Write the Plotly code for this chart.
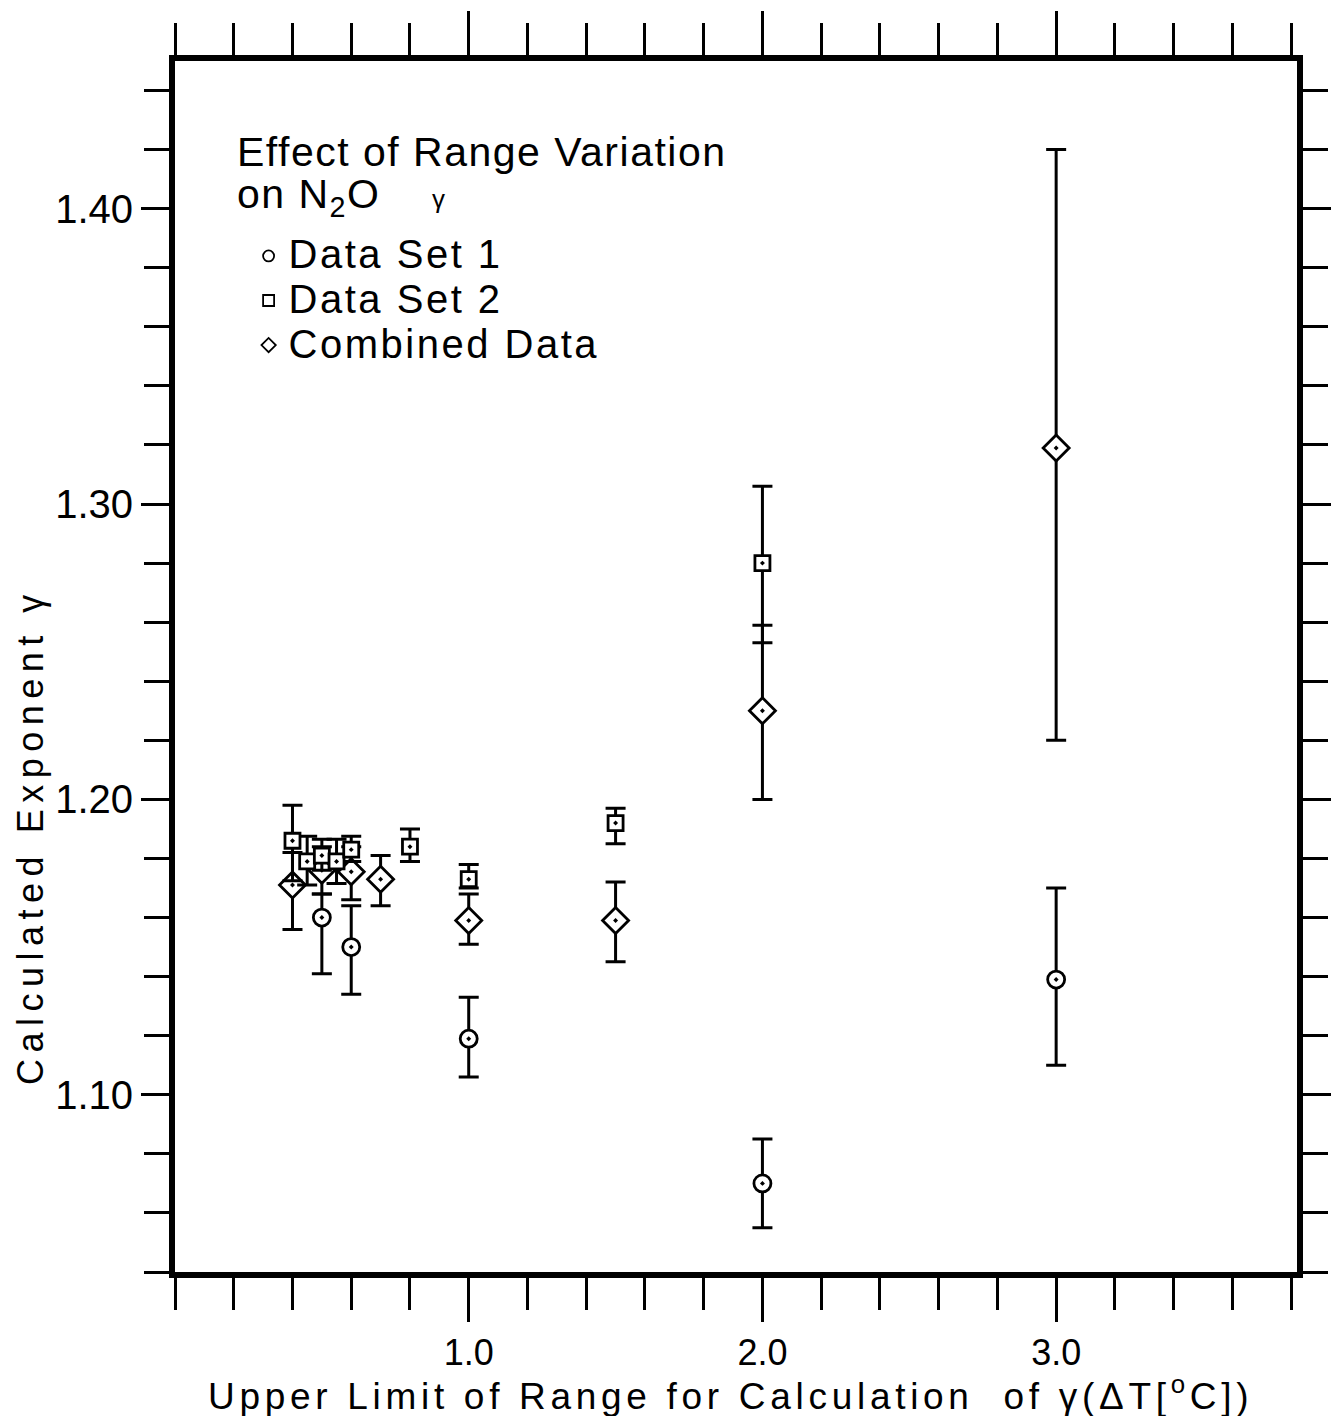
import plotly.graph_objects as go

# ---- data ----
x_set1 = [0.5, 0.6, 1.0, 2.0, 3.0]
y_set1 = [1.160, 1.150, 1.119, 1.070, 1.139]
hi_set1 = [1.168, 1.164, 1.133, 1.085, 1.170]
lo_set1 = [1.141, 1.134, 1.106, 1.055, 1.110]

x_set2 = [0.4, 0.45, 0.5, 0.55, 0.6, 0.8, 1.0, 1.5, 2.0]
y_set2 = [1.186, 1.179, 1.181, 1.179, 1.183, 1.184, 1.173, 1.192, 1.280]
hi_set2 = [1.198, 1.1875, 1.1865, 1.1865, 1.1875, 1.190, 1.178, 1.197, 1.306]
lo_set2 = [1.1725, 1.171, 1.176, 1.1715, 1.179, 1.179, 1.170, 1.185, 1.253]

x_comb = [0.4, 0.5, 0.6, 0.7, 1.0, 1.5, 2.0, 3.0]
y_comb = [1.171, 1.176, 1.1755, 1.173, 1.159, 1.159, 1.230, 1.319]
hi_comb = [1.182, 1.184, 1.184, 1.181, 1.168, 1.172, 1.259, 1.420]
lo_comb = [1.156, 1.168, 1.166, 1.164, 1.151, 1.145, 1.200, 1.220]

x_tickvals = [1.0, 2.0, 3.0]
x_ticktext = ["1.0", "2.0", "3.0"]
y_tickvals = [1.10, 1.20, 1.30, 1.40]
y_ticktext = ["1.10", "1.20", "1.30", "1.40"]

series_names = ["Data Set 1", "Data Set 2", "Combined Data"]

FONT = "Liberation Sans, Arial, Helvetica, sans-serif"

fig = go.Figure()


def add_series(xs, ys, hi, lo, symbol, size):
    fig.add_trace(go.Scatter(
        x=xs, y=ys, mode="markers", showlegend=False,
        marker=dict(symbol=symbol, size=size, color="white",
                    line=dict(color="black", width=2.8)),
        error_y=dict(type="data", symmetric=False,
                     array=[h - v for h, v in zip(hi, ys)],
                     arrayminus=[v - l for l, v in zip(lo, ys)],
                     color="black", thickness=3, width=10),
    ))


add_series(x_comb, y_comb, hi_comb, lo_comb, "diamond-dot", 20)
add_series(x_set1, y_set1, hi_set1, lo_set1, "circle-dot", 17)
add_series(x_set2, y_set2, hi_set2, lo_set2, "square-dot", 15)

# legend-only entries (plain small open symbols as in the original key)
for name, sym in zip(series_names, ["circle-open", "square-open", "diamond-open"]):
    fig.add_trace(go.Scatter(
        x=[None], y=[None], mode="markers",
        name="<span style='font-size:40px;letter-spacing:2.5px'>" + name + "</span>",
        marker=dict(symbol=sym, size=11, color="black", line=dict(width=1.8)),
    ))

fig.update_layout(
    width=1334, height=1416,
    margin=dict(l=175, r=37, t=61, b=144),
    paper_bgcolor="white", plot_bgcolor="white",
    font=dict(family=FONT, size=36, color="black"),
    showlegend=True,
    legend=dict(x=0.0656, y=0.8616, xanchor="left", yanchor="top",
                bgcolor="rgba(0,0,0,0)", borderwidth=0,
                font=dict(family=FONT, size=32, color="black"),
                tracegroupgap=0, itemwidth=30),
    xaxis=dict(
        range=[0.0, 3.82], showgrid=False, zeroline=False, automargin=False,
        showline=True, linewidth=6, linecolor="black", mirror="allticks",
        ticks="outside", ticklen=44, tickwidth=2.5, tickcolor="black",
        tickmode="array", tickvals=x_tickvals, ticktext=x_ticktext,
        tickfont=dict(family=FONT, size=36, color="black"),
        minor=dict(tickmode="linear", tick0=0.0, dtick=0.2, ticks="outside",
                   ticklen=32, tickwidth=2.5, tickcolor="black", showgrid=False),
    ),
    yaxis=dict(
        range=[1.04, 1.45], showgrid=False, zeroline=False, automargin=False,
        showline=True, linewidth=6, linecolor="black", mirror="allticks",
        ticks="outside", ticklen=28, tickwidth=2.5, tickcolor="black",
        tickmode="array", tickvals=y_tickvals, ticktext=y_ticktext,
        tickfont=dict(family=FONT, size=40, color="black"),
        minor=dict(tickmode="linear", tick0=1.0, dtick=0.02, ticks="outside",
                   ticklen=25, tickwidth=2.5, tickcolor="black", showgrid=False),
    ),
    annotations=[
        dict(text="<span style='letter-spacing:1.5px'>Effect of Range Variation</span>",
             xref="paper", yref="paper", x=0.0535, y=0.9249,
             xanchor="left", yanchor="middle", align="left", showarrow=False,
             font=dict(family=FONT, size=41, color="black")),
        dict(text="<span style='letter-spacing:1.5px'>on N<sub>2</sub>O    </span><span style='font-size:26px'>γ</span>",
             xref="paper", yref="paper", x=0.0535, y=0.8877,
             xanchor="left", yanchor="middle", align="left", showarrow=False,
             font=dict(family=FONT, size=41, color="black")),
        dict(text="<span style='letter-spacing:6.5px'>Calculated Exponent γ</span>", textangle=-90,
             xref="paper", yref="paper", x=-0.1293, y=0.36,
             xanchor="center", yanchor="middle", showarrow=False,
             font=dict(family=FONT, size=36, color="black")),
        dict(text="<span style='letter-spacing:4.7px'>Upper Limit of Range for Calculation  of γ(ΔT[<sup>o</sup>C])</span>",
             xref="paper", yref="paper", x=0.495, y=-0.1,
             xanchor="center", yanchor="middle", showarrow=False,
             font=dict(family=FONT, size=37, color="black")),
    ],
)

fig.write_html(
    "out.html",
    config={"displayModeBar": False},
    post_script="document.body.style.margin='0px';document.body.style.overflow='hidden';",
)
